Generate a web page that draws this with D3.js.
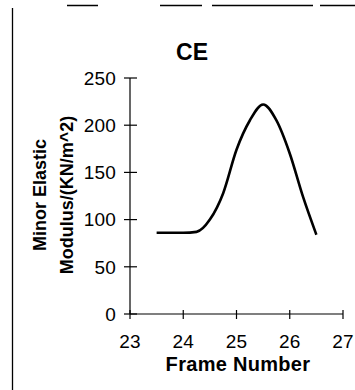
<!DOCTYPE html>
<html>
<head>
<meta charset="utf-8">
<script src="https://cdn.jsdelivr.net/npm/d3@7"></script>
<style>
  body { margin: 0; background: #fff; }
  svg { display: block; font-family: Arial, "Liberation Sans", sans-serif; }
</style>
</head>
<body>
<div id="chart"></div>
<script>
// data
const frames = [23.5, 23.75, 24, 24.25, 24.5, 24.75, 25, 25.25, 25.5, 25.75, 26, 26.25, 26.5];
const modulus = [86, 86, 86, 87, 100, 128, 174, 205, 222, 205, 170, 124, 84];
const xTicks = [23, 24, 25, 26, 27];
const yTicks = [0, 50, 100, 150, 200, 250];
const title = 'CE';
const xLabel = 'Frame Number';
const yLabelLines = ['Minor Elastic', 'Modulus/(KN/m^2)'];

const width = 355, height = 390;

const svg = d3.select('#chart').append('svg')
  .attr('width', width)
  .attr('height', height);

// scanned frame edges
svg.append('line')
  .attr('x1', 12.5).attr('y1', 8).attr('x2', 12.5).attr('y2', height)
  .attr('stroke', '#000').attr('stroke-width', 1.3);
svg.append('line')
  .attr('x1', 12).attr('y1', 5.5).attr('x2', width).attr('y2', 5.5)
  .attr('stroke', '#000').attr('stroke-width', 1.3)
  .attr('stroke-dasharray', '0 55 31 62 42 10 101 7 40');

const x = d3.scaleLinear().domain([23, 27]).range([130, 343]);
const y = d3.scaleLinear().domain([0, 250]).range([314, 78]);

// y axis
const yAxis = svg.append('g').attr('transform', `translate(${x(23)},0)`);
yAxis.append('line')
  .attr('y1', y(0)).attr('y2', y(250))
  .attr('stroke', '#000').attr('stroke-width', 1.2);
yAxis.selectAll('.tick')
  .data(yTicks)
  .join('line')
  .attr('x1', -6).attr('x2', 7)
  .attr('y1', d => y(d)).attr('y2', d => y(d))
  .attr('stroke', '#000').attr('stroke-width', 1.2);
yAxis.selectAll('text')
  .data(yTicks)
  .join('text')
  .attr('x', -14)
  .attr('y', d => y(d))
  .attr('dy', '0.36em')
  .attr('text-anchor', 'end')
  .style('font-size', '19px')
  .style('letter-spacing', '0.2px')
  .text(d => d);

// x axis
const xAxis = svg.append('g').attr('transform', `translate(0,${y(0)})`);
xAxis.append('line')
  .attr('x1', x(23)).attr('x2', x(27))
  .attr('stroke', '#000').attr('stroke-width', 1.2);
xAxis.selectAll('.tick')
  .data(xTicks)
  .join('line')
  .attr('x1', d => x(d)).attr('x2', d => x(d))
  .attr('y1', -4).attr('y2', 5)
  .attr('stroke', '#000').attr('stroke-width', 1.2);
xAxis.selectAll('text')
  .data(xTicks)
  .join('text')
  .attr('x', d => x(d))
  .attr('y', 34)
  .attr('text-anchor', 'middle')
  .style('font-size', '19px')
  .style('letter-spacing', '0.2px')
  .text(d => d);

// curve
const line = d3.line()
  .x(d => x(d[0]))
  .y(d => y(d[1]))
  .curve(d3.curveMonotoneX);

svg.append('path')
  .datum(d3.zip(frames, modulus))
  .attr('d', line)
  .attr('fill', 'none')
  .attr('stroke', '#000')
  .attr('stroke-width', 2.6)
  .attr('stroke-linejoin', 'round');

// title
svg.append('text')
  .attr('x', 192).attr('y', 60)
  .attr('text-anchor', 'middle')
  .style('font-size', '23px')
  .style('font-weight', 'bold')
  .text(title);

// x label
svg.append('text')
  .attr('x', 238).attr('y', 371)
  .attr('text-anchor', 'middle')
  .style('font-size', '20px')
  .style('font-weight', 'bold')
  .style('letter-spacing', '0.3px')
  .text(xLabel);

// y label (two lines, rotated)
const yLab = svg.append('text')
  .attr('transform', 'translate(40,195) rotate(-90)')
  .attr('text-anchor', 'middle')
  .style('font-size', '18px')
  .style('font-weight', 'bold');
yLab.selectAll('tspan')
  .data(yLabelLines)
  .join('tspan')
  .attr('x', 0)
  .attr('y', (d, i) => i * 27 + 6)
  .text(d => d);
</script>
</body>
</html>
